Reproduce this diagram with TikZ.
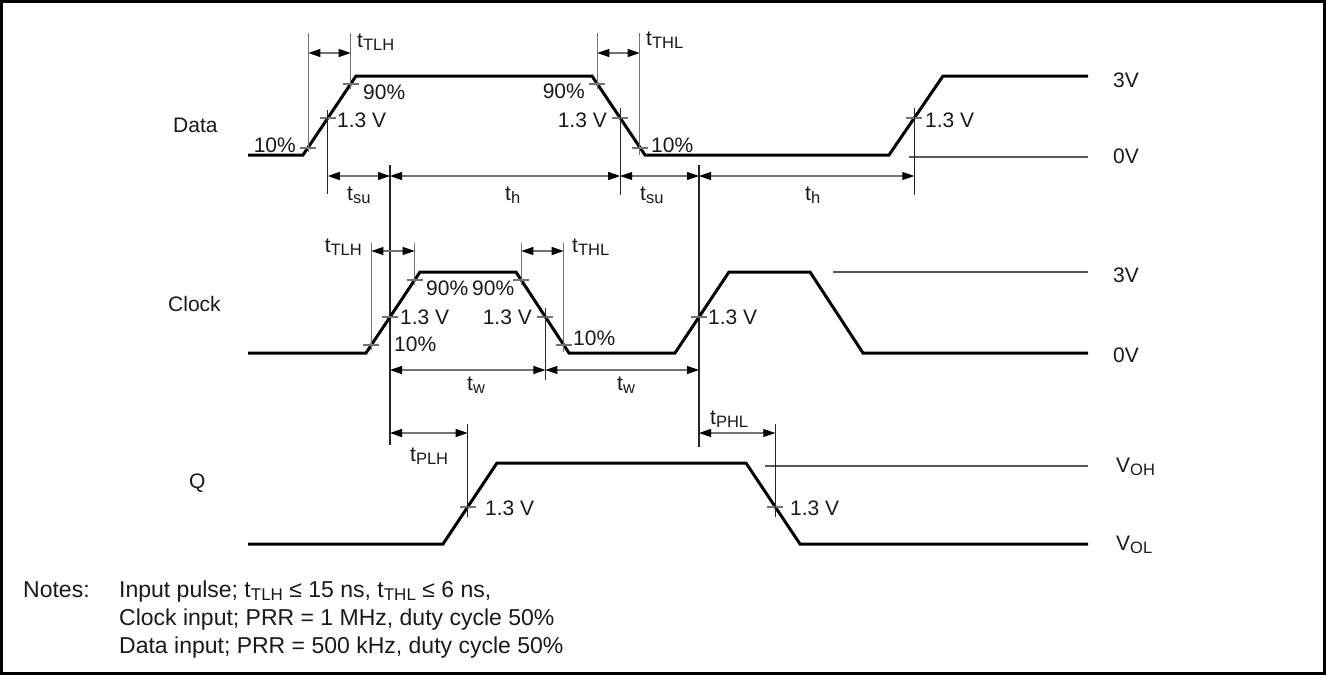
\documentclass[tikz,border=0pt]{standalone}
\usepackage{fontspec}
\setmainfont{Liberation Sans}
\usetikzlibrary{arrows.meta}
\newcommand\tsb[2]{#1\raisebox{-3pt}{\fontsize{16.5}{17}\selectfont #2}}
\newcommand\tsn[2]{#1\raisebox{-3pt}{\fontsize{17}{17}\selectfont #2}}
\newcommand\tk[2]{\draw[tickl] ({#1-8},#2) -- ({#1+8},#2);}
\begin{document}
\begin{tikzpicture}[x=1pt,y=-1pt,
  wave/.style={line width=3pt, line join=miter},
  tickl/.style={line width=1.1pt, black!55},
  refg/.style={line width=1.1pt, black!55},
  refb/.style={line width=1.1pt, black!85},
  lvl/.style={line width=1.1pt, black!65},
  dim/.style={line width=1.1pt, black!55, {Triangle[length=12pt,width=8pt,color=black]}-{Triangle[length=12pt,width=8pt,color=black]}},
  lbl/.style={inner sep=0pt, font=\fontsize{21}{24}\selectfont, text=black!90},
  note/.style={inner sep=0pt, font=\fontsize{23}{28}\selectfont, anchor=base west, text=black!90}]
\useasboundingbox (0,0) rectangle (1326,675);
\draw[line width=3pt] (1.5,1.5) rectangle (1324.5,673.5);

% ---------- Data ----------
\draw[wave] (248,155) -- (303,155) -- (356,76) -- (592,76) -- (645,155) -- (889,155) -- (943,76) -- (1088,76);
\draw[lvl] (909,157) -- (1088,157);
\tk{308.3}{148} \tk{350.7}{84} \tk{327.8}{118}
\tk{597.3}{84} \tk{620.2}{118} \tk{639.7}{148}
\tk{914.3}{118}
\draw[refg] (308.3,33) -- (308.3,152);
\draw[refg] (350.7,33) -- (350.7,89);
\draw[refg] (597.3,33) -- (597.3,89);
\draw[refg] (639.7,33) -- (639.7,155);
\draw[refb] (327.8,110) -- (327.8,194);
\draw[refb] (620.2,108) -- (620.2,195);
\draw[refb] (914.3,108) -- (914.3,195);
\draw[refb] (390,165) -- (390,445);
\draw[refb] (699,165) -- (699,447);
\draw[dim] (308.3,53) -- (350.7,53);
\draw[dim] (597.3,53) -- (639.7,53);
\draw[dim] (327.8,176) -- (390,176);
\draw[dim] (390,176) -- (620.2,176);
\draw[dim] (620.2,176) -- (699,176);
\draw[dim] (699,176) -- (914.3,176);

\node[lbl, anchor=base west] (lData) at (173,132) {Data};
\node[lbl, anchor=base east] (d10a) at (296,152) {10\%};
\node[lbl, anchor=base west] (d90a) at (363,99) {90\%};
\node[lbl, anchor=base west] (d13a) at (337,127) {1.3 V};
\node[lbl, anchor=base west] (dtlh) at (357,47) {\tsb{t}{TLH}};
\node[lbl, anchor=base east] (d90b) at (585,98) {90\%};
\node[lbl, anchor=base east] (d13b) at (607,127) {1.3 V};
\node[lbl, anchor=base west] (d10b) at (651,152) {10\%};
\node[lbl, anchor=base west] (dthl) at (646,45) {\tsb{t}{THL}};
\node[lbl, anchor=base west] (d13c) at (925,127) {1.3 V};
\node[lbl, anchor=base west] (d3v) at (1113,87) {3V};
\node[lbl, anchor=base west] (d0v) at (1113,163) {0V};
\node[lbl, anchor=base west] (tsu1) at (347,200) {\tsb{t}{su}};
\node[lbl, anchor=base west] (th1) at (505,200) {\tsb{t}{h}};
\node[lbl, anchor=base west] (tsu2) at (640,200) {\tsb{t}{su}};
\node[lbl, anchor=base west] (th2) at (805,200) {\tsb{t}{h}};

% ---------- Clock ----------
\draw[wave] (248,353) -- (366,353) -- (420,272) -- (516,272) -- (569,353) -- (675,353) -- (729,272) -- (810,272) -- (863,353) -- (1088,353);
\draw[lvl] (833,272) -- (1088,272);
\tk{371.4}{345} \tk{390}{317} \tk{414.6}{280}
\tk{521.3}{280} \tk{545.4}{317} \tk{563.7}{345}
\tk{699}{317}
\draw[refg] (371.4,243) -- (371.4,350);
\draw[refg] (414.6,243) -- (414.6,285);
\draw[refg] (521.3,243) -- (521.3,285);
\draw[refg] (563.7,243) -- (563.7,352);
\draw[refb] (545.4,308) -- (545.4,380);
\draw[dim] (371.4,251) -- (414.6,251);
\draw[dim] (521.3,251) -- (563.7,251);
\draw[dim] (390,370) -- (545.4,370);
\draw[dim] (545.4,370) -- (699,370);

\node[lbl, anchor=base west] (lClock) at (168,311) {Clock};
\node[lbl, anchor=base east] (ctlh) at (362,252) {\tsb{t}{TLH}};
\node[lbl, anchor=base west] (cthl) at (572,252) {\tsb{t}{THL}};
\node[lbl, anchor=base west] (c90a) at (426,295) {90\%};
\node[lbl, anchor=base west] (c90b) at (472,295) {90\%};
\node[lbl, anchor=base west] (c13a) at (400,324) {1.3 V};
\node[lbl, anchor=base west] (c10a) at (394,351) {10\%};
\node[lbl, anchor=base east] (c13b) at (532,324) {1.3 V};
\node[lbl, anchor=base west] (c10b) at (573,345) {10\%};
\node[lbl, anchor=base west] (c13c) at (708,324) {1.3 V};
\node[lbl, anchor=base west] (tw1) at (467,390) {\tsb{t}{w}};
\node[lbl, anchor=base west] (tw2) at (617,390) {\tsb{t}{w}};
\node[lbl, anchor=base west] (c3v) at (1113,282) {3V};
\node[lbl, anchor=base west] (c0v) at (1113,362) {0V};

% ---------- Q ----------
\draw[wave] (248,544) -- (443,544) -- (497,463) -- (746,463) -- (800,544) -- (1088,544);
\draw[lvl] (765,466) -- (1088,466);
\tk{467.7}{507} \tk{775.3}{507}
\draw[refb] (467.7,424) -- (467.7,517);
\draw[refb] (775.3,424) -- (775.3,517);
\draw[dim] (390,433) -- (467.7,433);
\draw[dim] (699,433) -- (775.3,433);

\node[lbl, anchor=base west] (lQ) at (189,488) {Q};
\node[lbl, anchor=base west] (tplh) at (410,461) {\tsb{t}{PLH}};
\node[lbl, anchor=base west] (tphl) at (710,424) {\tsb{t}{PHL}};
\node[lbl, anchor=base west] (q13a) at (485,515) {1.3 V};
\node[lbl, anchor=base west] (q13b) at (790,515) {1.3 V};
\node[lbl, anchor=base west] (qvoh) at (1116,472) {\tsb{V}{OH}};
\node[lbl, anchor=base west] (qvol) at (1116,550) {\tsb{V}{OL}};

% ---------- Notes ----------
\node[note] (nNotes) at (23,597) {Notes:};
\node[note] (n1) at (119,597) {Input pulse; \tsn{t}{TLH} ≤ 15 ns, \tsn{t}{THL} ≤ 6 ns,};
\node[note] (n2) at (119,625) {Clock input; PRR = 1 MHz, duty cycle 50\%};
\node[note] (n3) at (119,653) {Data input; PRR = 500 kHz, duty cycle 50\%};
\end{tikzpicture}
\end{document}
